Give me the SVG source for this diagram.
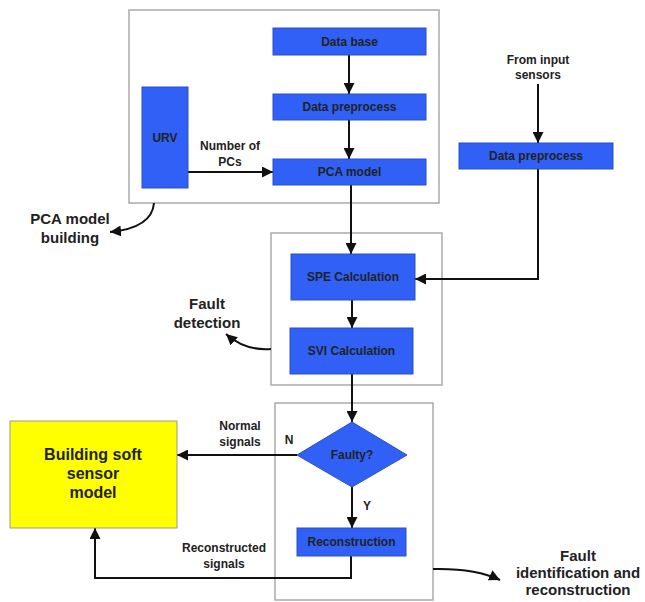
<svg xmlns="http://www.w3.org/2000/svg" width="645" height="602" viewBox="0 0 645 602">
<defs>
<style>
.cont{fill:#fff;stroke:#aaa;stroke-width:1.5}
.blue{fill:#3060f6;stroke:#2a4fc8;stroke-width:1}
.yel{fill:#ffff00;stroke:#999;stroke-width:1}
.t{font-family:"Liberation Sans",Arial,sans-serif;font-weight:bold;fill:#222;text-anchor:middle}
.s12{font-size:12px}
.s15{font-size:15px}
.s16{font-size:16px}
.c{fill:none;stroke:#111;stroke-width:2}
</style>
<marker id="ahb" viewBox="0 0 10 10" refX="10" refY="5" markerWidth="11" markerHeight="11" orient="auto" markerUnits="userSpaceOnUse">
<path d="M0,0 L10,5 L0,10 Z" fill="#111"/>
</marker>
</defs>
<rect width="645" height="602" fill="#fff"/>
<g id="containers">
<rect id="box-pca" class="cont" x="129" y="10" width="310" height="193"/>
<rect id="box-detect" class="cont" x="271" y="233" width="171" height="152"/>
<rect id="box-ident" class="cont" x="275" y="403" width="158" height="197"/>
</g>
<g id="connectors">
<path class="c" d="M349,55 V94" marker-end="url(#ahb)"/>
<path class="c" d="M349,120 V159" marker-end="url(#ahb)"/>
<path class="c" d="M188,172 H273" marker-end="url(#ahb)"/>
<path class="c" d="M351,185 V254" marker-end="url(#ahb)"/>
<path class="c" d="M538,84 V143" marker-end="url(#ahb)"/>
<path class="c" d="M538,169 V279 H415" marker-end="url(#ahb)"/>
<path class="c" d="M352,300 V328" marker-end="url(#ahb)"/>
<path class="c" d="M352,374 V422" marker-end="url(#ahb)"/>
<path class="c" d="M352,487 V528" marker-end="url(#ahb)"/>
<path class="c" d="M297,455 H177" marker-end="url(#ahb)"/>
<path class="c" d="M351,556 V578 H95 V528" marker-end="url(#ahb)"/>
<path class="c" d="M154,203 Q152,228 110,232" marker-end="url(#ahb)"/>
<path class="c" d="M271,349 Q245,351 226,334" marker-end="url(#ahb)"/>
<path class="c" d="M433,569 Q475,568 500,580" marker-end="url(#ahb)"/>
</g>
<g id="n-database"><rect class="blue" x="273" y="28" width="153" height="27"/><text class="t s12" x="349.5" y="46">Data base</text></g>
<g id="n-preprocess1"><rect class="blue" x="273" y="94" width="153" height="26"/><text class="t s12" x="349.5" y="111">Data preprocess</text></g>
<g id="n-pca"><rect class="blue" x="273" y="159" width="153" height="26"/><text class="t s12" x="349.5" y="176">PCA model</text></g>
<g id="n-urv"><rect class="blue" x="142" y="87" width="46" height="101"/><text class="t s12" x="165" y="142">URV</text></g>
<g id="l-numpcs"><text class="t s12" x="230" y="150">Number of</text><text class="t s12" x="230" y="166">PCs</text></g>
<g id="l-input"><text class="t s12" x="538" y="64">From input</text><text class="t s12" x="538" y="79">sensors</text></g>
<g id="n-preprocess2"><rect class="blue" x="459" y="143" width="154" height="26"/><text class="t s12" x="536" y="160">Data preprocess</text></g>
<g id="l-pcabuild"><text class="t s15" x="70" y="224">PCA model</text><text class="t s15" x="70" y="243">building</text></g>
<g id="n-spe"><rect class="blue" x="291" y="254" width="124" height="46"/><text class="t s12" x="353" y="281">SPE Calculation</text></g>
<g id="n-svi"><rect class="blue" x="290" y="328" width="123" height="46"/><text class="t s12" x="351.5" y="355">SVI Calculation</text></g>
<g id="l-faultdet"><text class="t s15" x="207" y="309">Fault</text><text class="t s15" x="207" y="328">detection</text></g>
<g id="n-faulty"><path class="blue" d="M352,422 L407,455 L352,487 L297,455 Z"/><text class="t s12" x="352" y="459">Faulty?</text></g>
<g id="l-N"><text class="t s12" x="289" y="444">N</text></g>
<g id="l-Y"><text class="t s12" x="367" y="510">Y</text></g>
<g id="n-recon"><rect class="blue" x="297" y="528" width="109" height="28"/><text class="t s12" x="351.5" y="546">Reconstruction</text></g>
<g id="l-normal"><text class="t s12" x="240" y="430">Normal</text><text class="t s12" x="240" y="446">signals</text></g>
<g id="l-reconsig"><text class="t s12" x="224" y="552">Reconstructed</text><text class="t s12" x="224" y="568">signals</text></g>
<g id="n-softsensor"><rect class="yel" x="10" y="421" width="167" height="107"/><text class="t s16" x="93" y="460">Building soft</text><text class="t s16" x="93" y="479">sensor</text><text class="t s16" x="93" y="498">model</text></g>
<g id="l-faultid"><text class="t s15" x="578" y="561">Fault</text><text class="t s15" x="578" y="578">identification and</text><text class="t s15" x="578" y="595">reconstruction</text></g>
</svg>
